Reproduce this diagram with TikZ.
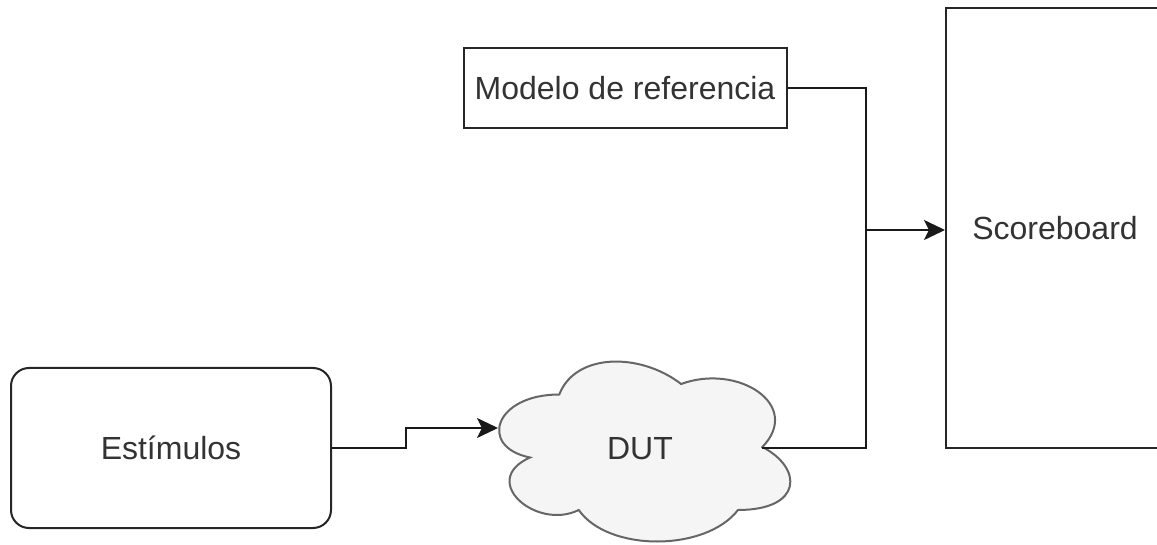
\documentclass[tikz,border=0pt]{standalone}
\usepackage{fontspec}
\setmainfont{Liberation Sans}
\usetikzlibrary{arrows.meta}
\definecolor{txt}{HTML}{333333}
\definecolor{cloudfill}{HTML}{F5F5F5}
\definecolor{cloudline}{HTML}{666666}
\begin{document}
\begin{tikzpicture}[x=0.5pt,y=-0.5pt,
  box/.style={draw=black!85,line width=1pt,fill=white,inner sep=0pt,text=txt,font=\fontsize{16}{19}\selectfont},
  lbl/.style={text=txt,font=\fontsize{16}{19}\selectfont,inner sep=0pt},
  wire/.style={draw=black!90,line width=1pt},
  arr/.style={wire,-{Stealth[length=10.5pt,width=10pt,inset=2.5pt]}}]
\useasboundingbox (0,0) rectangle (1157,545);
\clip (0,0) rectangle (1157,545);
% nodes
\node[box,rounded corners=9pt,minimum width=160pt,minimum height=80pt] (est) at (171,448) {Estímulos};
\node[box,minimum width=161.5pt,minimum height=40pt] (model) at (625,88) {Modelo de referencia};
\node[box,minimum width=109pt,minimum height=220pt] (sb) at (1055,228) {Scoreboard};
% cloud (DUT)
\def\cx{478}\def\cy{342}\def\cw{325}\def\ch{210}
\draw[cloudline,fill=cloudfill,line width=1pt]
  ({\cx+0.25*\cw},{\cy+0.25*\ch})
  .. controls ({\cx+0.05*\cw},{\cy+0.25*\ch}) and ({\cx},{\cy+0.5*\ch}) .. ({\cx+0.16*\cw},{\cy+0.55*\ch})
  .. controls ({\cx},{\cy+0.66*\ch}) and ({\cx+0.18*\cw},{\cy+0.9*\ch}) .. ({\cx+0.31*\cw},{\cy+0.8*\ch})
  .. controls ({\cx+0.4*\cw},{\cy+\ch}) and ({\cx+0.7*\cw},{\cy+\ch}) .. ({\cx+0.8*\cw},{\cy+0.8*\ch})
  .. controls ({\cx+\cw},{\cy+0.8*\ch}) and ({\cx+\cw},{\cy+0.6*\ch}) .. ({\cx+0.875*\cw},{\cy+0.5*\ch})
  .. controls ({\cx+\cw},{\cy+0.3*\ch}) and ({\cx+0.8*\cw},{\cy+0.1*\ch}) .. ({\cx+0.625*\cw},{\cy+0.2*\ch})
  .. controls ({\cx+0.5*\cw},{\cy+0.05*\ch}) and ({\cx+0.3*\cw},{\cy+0.05*\ch}) .. ({\cx+0.25*\cw},{\cy+0.25*\ch})
  -- cycle;
\node[lbl] (dut) at (640,449) {DUT};
\coordinate (dutin) at (498,428);
\coordinate (dutout) at (762,448);
\coordinate (step) at (406,428);
\coordinate (junc) at (866,230);
% connectors
\draw[arr] (est.east) -| (step) -- (dutin);
\draw[wire] (model.east) -| (junc);
\draw[wire] (dutout) -| (junc);
\draw[arr] (junc) -- (sb.west |- junc);
\end{tikzpicture}
\end{document}
